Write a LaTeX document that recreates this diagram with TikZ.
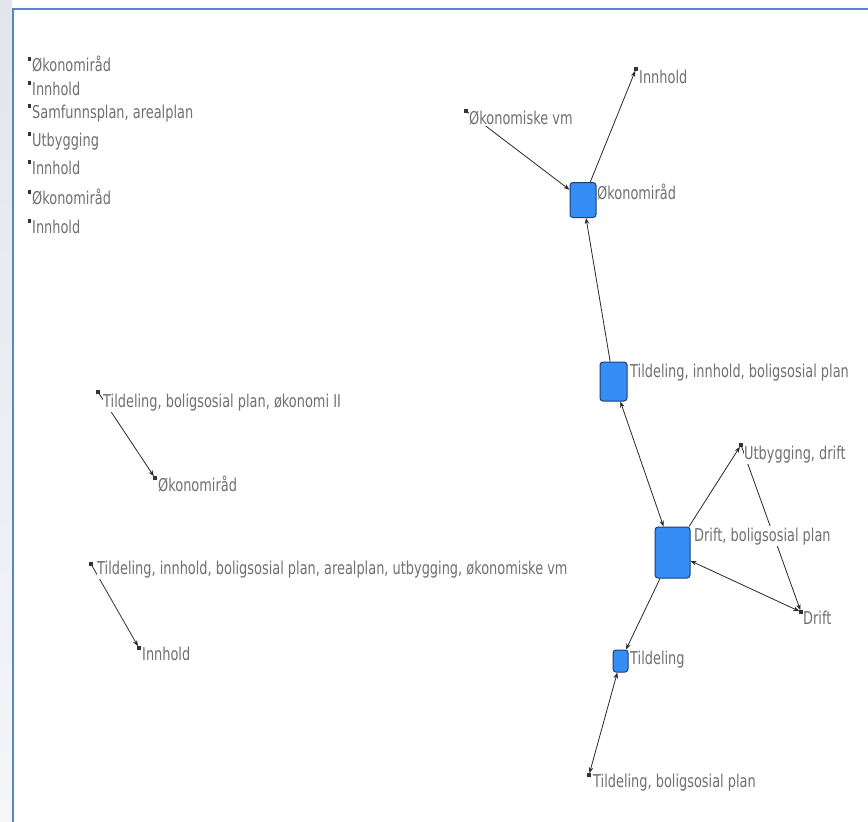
\documentclass[tikz,border=0pt]{standalone}
\usepackage{fontspec}
\setmainfont[FakeStretch=0.73]{DejaVu Sans}
\usetikzlibrary{arrows.meta}
\definecolor{frameblue}{RGB}{84,134,204}
\definecolor{boxfill}{RGB}{52,142,246}
\definecolor{boxline}{RGB}{32,62,112}
\definecolor{labelgray}{RGB}{112,112,112}
\definecolor{wire}{RGB}{40,40,40}
\definecolor{stripTop}{RGB}{226,230,235}
\definecolor{stripMid}{RGB}{204,210,218}
\definecolor{stripBot}{RGB}{244,246,248}
\begin{document}
\begin{tikzpicture}[x=1pt,y=-1pt,
  hub/.style={rectangle, rounded corners=3pt, draw=boxline, line width=1pt, fill=boxfill, inner sep=0pt},
  dotbox/.style={rectangle, fill=black!80, minimum size=3.2pt, inner sep=0pt},
  lbl/.style={anchor=base west, fill=white, text=labelgray, inner xsep=0.5pt, inner ysep=1.5pt,
              font=\fontsize{17.7}{20}\selectfont},
  link/.style={draw=wire, line width=0.8pt, -{Stealth[length=6pt,width=4.5pt]}},
  link2/.style={draw=wire, line width=0.8pt, {Stealth[length=6pt,width=4.5pt]}-{Stealth[length=6pt,width=4.5pt]}}
]
% canvas, side strip and frame
\useasboundingbox (0,0) rectangle (868,822);
\fill[white] (0,0) rectangle (868,822);
\shade[top color=stripTop, middle color=stripMid, bottom color=stripBot] (0,0) rectangle (12,822);
\draw[frameblue, line width=2pt] (12.5,822) -- (12.5,8.5) -- (868,8.5);

% hub nodes
\node[hub, minimum width=26pt, minimum height=35pt] (okBox) at (583,200) {};
\node[hub, minimum width=27pt, minimum height=39pt] (tilBox) at (613.5,381.5) {};
\node[hub, minimum width=35pt, minimum height=51pt] (driftBox) at (672.5,552.5) {};
\node[hub, minimum width=15pt, minimum height=22pt] (tBox) at (620.5,661) {};

% small item markers
\node[dotbox] (mInnTop) at (636,69) {};
\node[dotbox] (mOkv) at (466,111) {};
\node[dotbox] (mUtb) at (741,445) {};
\node[dotbox] (mDrift) at (801,612) {};
\node[dotbox] (mTbp) at (589,775) {};
\node[dotbox] (mTbo) at (98,392) {};
\node[dotbox] (mOkL) at (155,478) {};
\node[dotbox] (mLong) at (91,564) {};
\node[dotbox] (mInnL) at (139,648) {};
\node[dotbox] (q1) at (29.5,59) {};
\node[dotbox] (q2) at (29.5,83) {};
\node[dotbox] (q3) at (29.5,106) {};
\node[dotbox] (q4) at (29.5,134) {};
\node[dotbox] (q5) at (29.5,162) {};
\node[dotbox] (q6) at (29.5,192) {};
\node[dotbox] (q7) at (29.5,221) {};

% connectors
\draw[link] (mOkv) -- (okBox);
\draw[link] (okBox) -- (mInnTop);
\draw[link] (tilBox) -- (okBox);
\draw[link2] (tilBox) -- (driftBox);
\draw[link] (driftBox) -- (mUtb);
\draw[link] (mUtb) -- (mDrift);
\draw[link2] (driftBox) -- (mDrift);
\draw[link] (driftBox) -- (tBox);
\draw[link2] (tBox) -- (mTbp);
\draw[link] (mTbo) -- (mOkL);
\draw[link] (mLong) -- (mInnL);

% labels
\node[lbl] (t1) at (31.5,71) {Økonomiråd};
\node[lbl] (t2) at (31.5,95) {Innhold};
\node[lbl] (t3) at (31.5,118) {Samfunnsplan, arealplan};
\node[lbl] (t4) at (31.5,146) {Utbygging};
\node[lbl] (t5) at (31.5,174) {Innhold};
\node[lbl] (t6) at (31.5,204) {Økonomiråd};
\node[lbl] (t7) at (31.5,233) {Innhold};

\node[lbl] (lOkv) at (468.5,124) {Økonomiske vm};
\node[lbl] (lInnTop) at (638.5,83) {Innhold};
\node[lbl] (lOkBox) at (596.5,199) {Økonomiråd};
\node[lbl] (lTilBox) at (629.5,377) {Tildeling, innhold, boligsosial plan};
\node[lbl] (lUtb) at (743.5,459) {Utbygging, drift};
\node[lbl] (lDriftBox) at (693.5,541) {Drift, boligsosial plan};
\node[lbl] (lDrift) at (802.5,624) {Drift};
\node[lbl] (lTBox) at (629.5,664) {Tildeling};
\node[lbl] (lTbp) at (592.5,787) {Tildeling, boligsosial plan};
\node[lbl] (lTbo) at (102.5,407) {Tildeling, boligsosial plan, økonomi II};
\node[lbl] (lOkL) at (157.5,491) {Økonomiråd};
\node[lbl] (lLong) at (96.5,574) {Tildeling, innhold, boligsosial plan, arealplan, utbygging, økonomiske vm};
\node[lbl] (lInnL) at (141.5,660) {Innhold};
\end{tikzpicture}
\end{document}
